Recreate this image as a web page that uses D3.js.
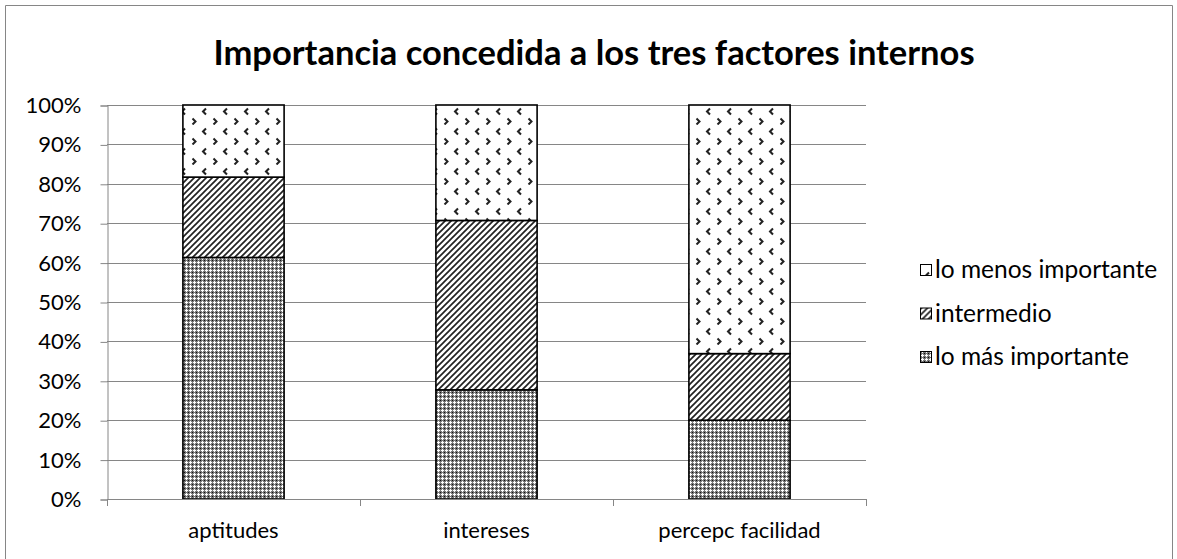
<!DOCTYPE html>
<html>
<head>
<meta charset="utf-8">
<script src="https://cdn.jsdelivr.net/npm/d3@7"></script>
<style>
  html, body { margin: 0; padding: 0; background: #fff; }
  svg { display: block; }
  text { font-family: Lato, "Open Sans", sans-serif; fill: #000; }
</style>
</head>
<body>
<svg id="chart" width="1177" height="559"></svg>
<script>
// ---- data ----
const title = "Importancia concedida a los tres factores internos";
const categories = ["aptitudes", "intereses", "percepc facilidad"];
const seriesNames = ["lo más importante", "intermedio", "lo menos importante"];
const masImportante = [61.3, 27.7, 20.0];
const intermedio = [20.4, 43.0, 16.9];
const menosImportante = [18.3, 29.3, 63.1];
const yTicks = [0, 10, 20, 30, 40, 50, 60, 70, 80, 90, 100];
const yTickLabels = ["0%", "10%", "20%", "30%", "40%", "50%", "60%", "70%", "80%", "90%", "100%"];
const legendItems = ["lo menos importante", "intermedio", "lo más importante"];

const rows = categories.map((c, i) => ({
  cat: c,
  "lo más importante": masImportante[i],
  "intermedio": intermedio[i],
  "lo menos importante": menosImportante[i]
}));

const svg = d3.select("#chart");
const W = 1177, H = 559;
const plot = { left: 107, right: 866, top: 105, bottom: 499 };

// ---- patterns ----
const defs = svg.append("defs");
// lo más importante: dense small grid
const p1 = defs.append("pattern").attr("id", "pat-mas")
  .attr("patternUnits", "userSpaceOnUse").attr("width", 4).attr("height", 4);
p1.append("rect").attr("width", 4).attr("height", 4).attr("fill", "#777");
p1.append("rect").attr("x", 1).attr("y", 2).attr("width", 3).attr("height", 1).attr("fill", "#fff");
p1.append("rect").attr("x", 2).attr("y", 1).attr("width", 1).attr("height", 3).attr("fill", "#fff");
p1.append("rect").attr("x", 0).attr("y", 0).attr("width", 1).attr("height", 1).attr("fill", "#111");

// intermedio: wide upward diagonal
const p2 = defs.append("pattern").attr("id", "pat-inter")
  .attr("patternUnits", "userSpaceOnUse").attr("width", 6).attr("height", 6);
p2.append("rect").attr("width", 6).attr("height", 6).attr("fill", "#fff");
p2.append("path").attr("d", "M-1,1 L1,-1 M0,6 L6,0 M5,7 L7,5")
  .attr("stroke", "#222").attr("stroke-width", 1.7);

// lo menos importante: small chevrons
function chevronPattern(id, ox, oy) {
  const p = defs.append("pattern").attr("id", id)
    .attr("patternUnits", "userSpaceOnUse").attr("width", 21).attr("height", 20)
    .attr("x", ox).attr("y", oy);
  p.append("rect").attr("width", 21).attr("height", 20).attr("fill", "#fff");
  p.append("path").attr("d", "M23,3.5 L20,6.5 L23,9.5 M2,3.5 L-1,6.5 L2,9.5")
    .attr("stroke", "#222").attr("stroke-width", 2).attr("fill", "none");
  p.append("path").attr("d", "M9.5,13.5 L12.5,16.5 L9.5,19.5")
    .attr("stroke", "#222").attr("stroke-width", 2).attr("fill", "none");
}
chevronPattern("pat-menos", 183, 105);
chevronPattern("pat-menos-lg", 910, 251);

const fills = {
  "lo más importante": "url(#pat-mas)",
  "intermedio": "url(#pat-inter)",
  "lo menos importante": "url(#pat-menos)"
};
const legendFills = {
  "lo más importante": "url(#pat-mas)",
  "intermedio": "url(#pat-inter)",
  "lo menos importante": "url(#pat-menos-lg)"
};

// ---- outer frame ----
svg.append("path")
  .attr("d", `M5.5,${H + 5} V5.5 H1172.5 V${H + 5}`)
  .attr("fill", "none").attr("stroke", "#868686").attr("stroke-width", 1);

// ---- title ----
svg.append("text")
  .attr("x", 594).attr("y", 65)
  .attr("text-anchor", "middle")
  .attr("font-weight", "bold")
  .attr("font-size", 34.5)
  .text(title);

// ---- scales ----
const x = d3.scaleBand().domain(categories)
  .range([plot.left, plot.right]).paddingInner(0.6).paddingOuter(0.3);
const y = d3.scaleLinear().domain([0, 100]).range([plot.bottom, plot.top]);

// ---- gridlines ----
svg.append("g").selectAll("line").data(yTicks.filter(t => t > 0)).join("line")
  .attr("x1", plot.left).attr("x2", plot.right)
  .attr("y1", d => Math.round(y(d)) + 0.5).attr("y2", d => Math.round(y(d)) + 0.5)
  .attr("stroke", "#868686").attr("stroke-width", 1);

// ---- y axis ----
const yAxis = d3.axisLeft(y).tickValues(yTicks)
  .tickFormat((d, i) => yTickLabels[i]).tickSize(7).tickPadding(19);
const gy = svg.append("g").attr("transform", `translate(${plot.left + 0.5},0.5)`).call(yAxis);
gy.select(".domain").attr("stroke", "#868686");
gy.selectAll(".tick line").attr("stroke", "#868686");
gy.selectAll(".tick text").attr("font-size", 22).attr("font-family", "Lato, sans-serif")
  .attr("fill", "#000");

// ---- bars ----
const stack = d3.stack().keys(seriesNames);
const layers = stack(rows);
svg.append("g").selectAll("g").data(layers).join("g")
  .attr("fill", d => fills[d.key])
  .selectAll("rect").data(d => d).join("rect")
  .attr("x", d => x(d.data.cat))
  .attr("width", x.bandwidth())
  .attr("y", d => y(d[1]))
  .attr("height", d => y(d[0]) - y(d[1]))
  .attr("stroke", "#000").attr("stroke-width", 1.6);

// ---- x axis ----
const step = x.step();
const boundaries = [0, 1, 2, 3].map(i => plot.left + i * step);
svg.append("line")
  .attr("x1", plot.left).attr("x2", plot.right)
  .attr("y1", plot.bottom + 0.5).attr("y2", plot.bottom + 0.5)
  .attr("stroke", "#868686");
svg.append("g").selectAll("line").data(boundaries).join("line")
  .attr("x1", d => Math.round(d) + 0.5).attr("x2", d => Math.round(d) + 0.5)
  .attr("y1", plot.bottom).attr("y2", plot.bottom + 7)
  .attr("stroke", "#868686");
svg.append("g").selectAll("text").data(categories).join("text")
  .attr("x", d => x(d) + x.bandwidth() / 2)
  .attr("y", 538)
  .attr("text-anchor", "middle")
  .attr("font-size", 22)
  .text(d => d);

// ---- legend ----
const lg = svg.append("g").selectAll("g").data(legendItems).join("g")
  .attr("transform", (d, i) => `translate(920, ${278 + i * 43.5})`);
lg.append("rect")
  .attr("x", 0.5).attr("y", -13.5).attr("width", 11).attr("height", 11)
  .attr("fill", d => legendFills[d]).attr("stroke", "#000").attr("stroke-width", 1);
lg.append("text")
  .attr("x", 15).attr("y", 0)
  .attr("font-size", 24.5)
  .text(d => d);
</script>
</body>
</html>
